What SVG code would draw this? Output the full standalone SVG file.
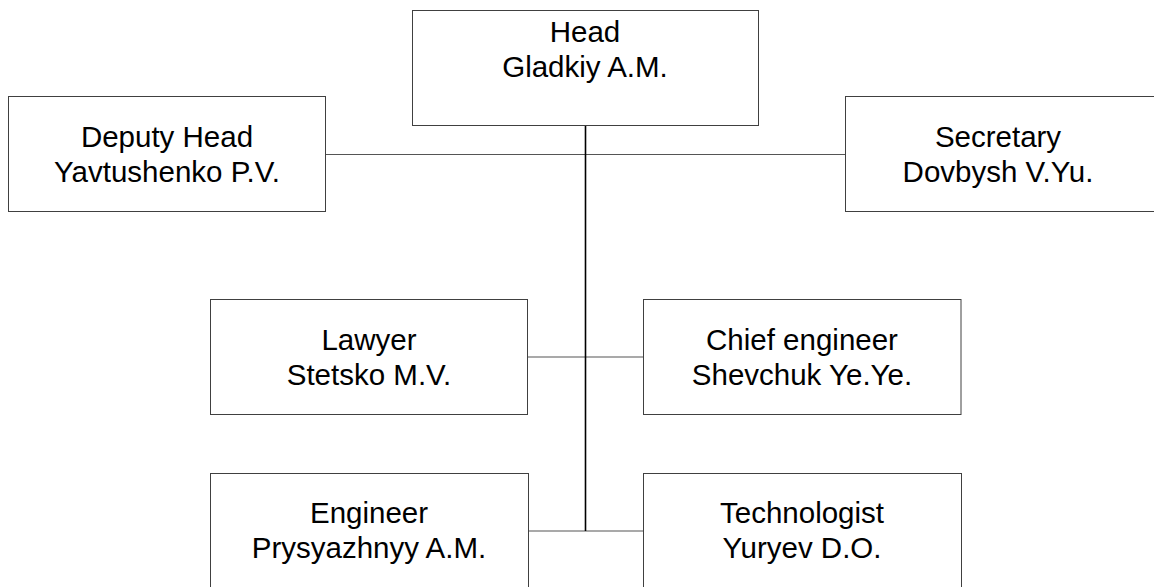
<svg xmlns="http://www.w3.org/2000/svg" width="1154" height="587" viewBox="0 0 1154 587">
<style>
.box{fill:#fff;stroke:#404040;stroke-width:1}
.t{font-family:"Liberation Sans",Arial,sans-serif;font-size:29.5px;fill:#000;text-anchor:middle}
.h{stroke:#555;stroke-width:1.2;fill:none}
.v{stroke:#000;stroke-width:1.6;fill:none}
</style>
<rect width="1154" height="587" fill="#fff"/>
<g id="connectors">
<line class="h" x1="326" y1="154.5" x2="845.5" y2="154.5"/>
<line class="h" x1="528" y1="357" x2="643.5" y2="357"/>
<line class="h" x1="528.5" y1="531" x2="643.5" y2="531"/>
<line class="v" x1="585.5" y1="125.5" x2="585.5" y2="531"/>
</g>
<g id="head">
<rect class="box" x="412.5" y="10.5" width="346" height="115"/>
<text class="t" x="585" y="42">Head</text>
<text class="t" x="585" y="77">Gladkiy A.M.</text>
</g>
<g id="deputy">
<rect class="box" x="8.5" y="96.5" width="317" height="115"/>
<text class="t" x="167" y="147">Deputy Head</text>
<text class="t" x="167" y="182">Yavtushenko P.V.</text>
</g>
<g id="secretary">
<rect class="box" x="845.5" y="96.5" width="318" height="115"/>
<text class="t" x="998" y="147">Secretary</text>
<text class="t" x="998" y="182">Dovbysh V.Yu.</text>
</g>
<g id="lawyer">
<rect class="box" x="210.5" y="299.5" width="317" height="115"/>
<text class="t" x="369" y="350">Lawyer</text>
<text class="t" x="369" y="385">Stetsko M.V.</text>
</g>
<g id="chief-engineer">
<rect class="box" x="643.5" y="299.5" width="317.5" height="115"/>
<text class="t" x="802" y="350">Chief engineer</text>
<text class="t" x="802" y="385">Shevchuk Ye.Ye.</text>
</g>
<g id="engineer">
<rect class="box" x="210.5" y="473.5" width="318" height="115"/>
<text class="t" x="369" y="523">Engineer</text>
<text class="t" x="369" y="558">Prysyazhnyy A.M.</text>
</g>
<g id="technologist">
<rect class="box" x="643.5" y="473.5" width="318" height="115"/>
<text class="t" x="802" y="523">Technologist</text>
<text class="t" x="802" y="558">Yuryev D.O.</text>
</g>
</svg>
